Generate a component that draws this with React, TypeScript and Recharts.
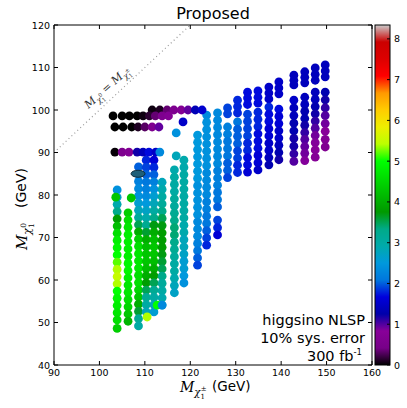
import React from 'react';
import { ScatterChart, Scatter, XAxis, YAxis, ReferenceLine, ReferenceArea } from 'recharts';

const W = 407;
const H = 408;
const PLOT_LEFT = 54;
const PLOT_RIGHT = 372;
const PLOT_TOP = 25;
const PLOT_BOTTOM = 365;
const Z_MAX = 8.34;

const xTicks = [90, 100, 110, 120, 130, 140, 150, 160];
const yTicks = [40, 50, 60, 70, 80, 90, 100, 110, 120];
const cbarTicks = [0, 1, 2, 3, 4, 5, 6, 7, 8];

// horizontal rows of points at the top of the low-mass cluster
const rowY = [100.0, 98.6, 96.0, 90.1];
const rowX = [
  [111.6, 113.3, 114.9, 116.4, 118.0, 119.5, 121.1, 122.6],
  [103.0, 105.0, 106.6, 108.3, 109.6, 111.0, 112.3, 113.8, 115.2],
  [103.4, 105.2, 107.1, 108.5, 110.0, 111.6, 113.1],
  [103.4, 105.0, 106.5, 108.3, 109.6, 110.9, 112.4, 113.3],
];
const rowZ = [
  [0.05, 0.1, 0.35, 0.6, 0.7, 0.95, 1.35, 1.55],
  [0, 0, 0, 0, 0.05, 0.15, 0.35, 0.6, 0.7],
  [0, 0, 0, 0.1, 0.3, 0.6, 0.95],
  [0.02, 0.6, 0.7, 1.2, 1.4, 1.7, 1.5, 2.3],
];

// vertical columns
const colX = [103.9, 106.3, 108.6, 110.3, 112.0, 113.8, 116.5, 118.6,
  121.6, 123.6, 126.0, 128.2, 130.4, 132.6, 134.9, 137.3, 139.5, 142.8, 145.2, 147.5, 149.7];
const colY = [
  [81.2, 79.5, 77.8, 76.1, 74.4, 72.7, 71.0, 69.3, 67.6, 65.9, 64.2, 62.5, 60.8, 59.1, 57.4, 55.7, 54.0, 52.3, 50.6, 48.6],
  [75.8, 74.1, 72.4, 70.7, 69.0, 67.3, 65.6, 63.9, 62.2, 60.5, 58.8, 57.1, 55.4, 53.7, 52.0, 50.3],
  [86.6, 84.9, 83.2, 81.5, 79.8, 78.1, 76.4, 74.7, 73.0, 71.3, 69.6, 67.9, 66.2, 64.5, 62.8, 61.1, 59.4, 57.7, 56.0, 54.3, 52.6, 50.9, 49.2],
  [88.2, 86.5, 84.8, 83.1, 81.4, 79.7, 78.0, 76.3, 74.6, 72.9, 71.2, 69.5, 67.8, 66.1, 64.4, 62.7, 61.0, 59.3, 57.6, 55.9, 54.2, 52.5],
  [88.2, 86.5, 84.8, 83.1, 81.4, 79.7, 78.0, 76.3, 74.6, 72.9, 71.2, 69.5, 67.8, 66.1, 64.4, 62.7, 61.0, 59.3, 57.6, 55.9, 54.2, 52.5],
  [83.0, 81.3, 79.6, 77.9, 76.2, 74.5, 72.8, 71.1, 69.4, 67.7, 66.0, 64.3, 62.6, 60.9, 59.2, 57.5, 55.8, 54.1],
  [85.9, 84.2, 82.5, 80.8, 79.1, 77.4, 75.7, 74.0, 72.3, 70.6, 68.9, 67.2, 65.5, 63.8, 62.1, 60.4, 58.7, 57.0],
  [88.2, 86.5, 84.8, 83.1, 81.4, 79.7, 78.0, 76.3, 74.6, 72.9, 71.2, 69.5, 67.8, 66.1, 64.4, 62.7, 61.0, 59.3],
  [94.1, 92.4, 90.7, 89.0, 87.3, 85.6, 83.9, 82.2, 80.5, 78.8, 77.1, 75.4, 73.7, 72.0, 70.3, 68.6, 66.9, 65.2, 63.5],
  [98.8, 97.1, 95.4, 93.7, 92.0, 90.3, 88.6, 86.9, 85.2, 83.5, 81.8, 80.1, 78.4, 76.7, 75.0, 73.3, 71.6, 69.9, 68.2],
  [99.3, 97.6, 95.9, 94.2, 92.5, 90.8, 89.1, 87.4, 85.7, 84.0, 82.3, 80.6, 78.9, 77.2, 74.1, 72.3, 70.6],
  [100.5, 99.1, 96.0, 94.3, 92.6, 90.9, 89.2, 87.5, 85.8, 84.1],
  [102.3, 100.8, 99.3, 97.2, 95.5, 93.8, 92.1, 90.4, 88.7, 87.0, 85.3],
  [104.2, 102.8, 101.3, 99.0, 97.3, 95.6, 93.9, 92.2, 90.5, 88.8, 87.1, 85.4],
  [104.5, 103.0, 101.6, 99.5, 97.8, 96.1, 94.4, 92.7, 91.0, 89.3, 87.6, 85.9],
  [105.4, 104.0, 102.6, 100.7, 99.0, 97.3, 95.6, 93.9, 92.2, 90.5, 88.8, 87.1],
  [106.6, 105.2, 103.8, 100.2, 98.5, 96.8, 95.1, 93.4, 91.7, 90.0, 88.3],
  [108.2, 107.0, 105.9, 102.3, 100.5, 98.7, 96.9, 95.1, 93.3, 91.5, 89.7, 87.9],
  [109.0, 107.7, 106.4, 103.0, 101.3, 99.7, 98.0, 96.4, 94.7, 93.1, 91.4, 89.8, 88.1],
  [109.9, 108.4, 107.0, 104.2, 102.5, 100.8, 99.1, 97.4, 95.7, 94.0, 92.3, 90.6, 88.9],
  [110.6, 109.2, 107.8, 104.2, 102.4, 100.5, 98.7, 96.8, 95.0, 93.1, 91.3],
];
const colZ = [
  [2.4, 2.6, 2.9, 3.3, 3.8, 4.2, 4.6, 4.8, 4.9, 5.0, 5.2, 5.4, 5.5, 5.4, 5.0, 4.9, 4.8, 4.7, 4.6, 4.4],
  [4.4, 4.6, 4.7, 4.8, 4.8, 4.8, 4.8, 4.9, 4.9, 4.8, 4.7, 4.7, 4.6, 4.5, 4.3, 4.1],
  [2.0, 2.1, 2.2, 2.3, 2.4, 2.6, 2.8, 3.1, 3.5, 4.0, 4.4, 4.6, 4.7, 4.7, 4.7, 4.6, 4.6, 4.5, 4.3, 4.0, 3.6, 3.2, 3.0],
  [1.8, 1.9, 2.0, 2.1, 2.2, 2.3, 2.5, 2.7, 2.9, 3.2, 3.6, 4.0, 4.2, 4.3, 4.3, 4.2, 4.0, 3.8, 3.5, 3.2, 3.0, 2.8],
  [1.6, 1.8, 2.0, 2.2, 2.4, 2.6, 2.8, 3.0, 3.3, 3.7, 4.0, 4.2, 4.3, 4.3, 4.2, 4.0, 3.8, 3.5, 3.2, 3.0, 2.8, 2.6],
  [2.8, 2.9, 3.0, 3.1, 3.3, 3.5, 3.7, 3.8, 3.8, 3.8, 3.7, 3.6, 3.5, 3.3, 3.1, 3.0, 2.9, 2.8],
  [2.9, 3.0, 3.0, 3.0, 3.1, 3.1, 3.2, 3.3, 3.4, 3.4, 3.3, 3.2, 3.1, 3.0, 3.0, 2.9, 2.8, 2.7],
  [2.9, 2.9, 3.0, 3.0, 3.0, 3.0, 3.0, 3.0, 3.0, 2.9, 2.9, 2.8, 2.8, 2.7, 2.6, 2.6, 2.5, 2.4],
  [2.5, 2.5, 2.5, 2.5, 2.5, 2.5, 2.5, 2.4, 2.4, 2.4, 2.4, 2.4, 2.3, 2.3, 2.3, 2.2, 2.1, 2.0, 1.9],
  [2.3, 2.4, 2.4, 2.4, 2.4, 2.4, 2.4, 2.4, 2.3, 2.3, 2.3, 2.3, 2.2, 2.2, 2.1, 2.1, 2.0, 1.9, 1.8],
  [2.3, 2.3, 2.3, 2.3, 2.3, 2.3, 2.3, 2.3, 2.2, 2.2, 2.2, 2.1, 2.1, 2.0, 1.9, 1.8, 1.6],
  [1.9, 1.9, 2.2, 2.2, 2.1, 2.1, 2.1, 2.0, 2.0, 1.9],
  [1.8, 1.8, 1.8, 2.1, 2.0, 2.0, 2.0, 1.9, 1.9, 1.8, 1.8],
  [1.7, 1.7, 1.7, 1.9, 1.9, 1.9, 1.9, 1.8, 1.8, 1.7, 1.7, 1.6],
  [1.7, 1.7, 1.7, 1.8, 1.8, 1.8, 1.7, 1.7, 1.7, 1.6, 1.6, 1.5],
  [1.5, 1.5, 1.5, 1.8, 1.7, 1.7, 1.6, 1.6, 1.5, 1.5, 1.4, 1.3],
  [1.5, 1.5, 1.5, 1.7, 1.6, 1.6, 1.5, 1.5, 1.4, 1.3, 1.2],
  [1.4, 1.4, 1.4, 1.5, 1.4, 1.4, 1.3, 1.3, 1.2, 1.2, 1.1, 1.0],
  [1.4, 1.4, 1.4, 1.4, 1.4, 1.3, 1.3, 1.2, 1.1, 1.0, 0.95, 0.9, 0.85],
  [1.4, 1.4, 1.4, 1.4, 1.4, 1.3, 1.2, 1.1, 1.0, 0.9, 0.85, 0.8, 0.75],
  [1.4, 1.4, 1.4, 1.3, 1.2, 1.1, 1.0, 0.9, 0.8, 0.7, 0.65],
];

// isolated points drawn last
const extraX = [118.4, 116.9, 116.9, 103.6, 107.0, 110.5, 112.7, 113.8];
const extraY = [97.2, 94.6, 89.2, 79.5, 79.3, 51.3, 54.1, 54.1];
const extraZ = [1.5, 2.4, 2.8, 4.3, 4.3, 5.4, 5.0, 2.3];

const blobX = [108.5];
const blobY = [85.0];

const NIPY = [
  [0, 0, 0], [0.4667, 0, 0.5333], [0.5333, 0, 0.6], [0, 0, 0.6667], [0, 0, 0.8667],
  [0, 0.4667, 0.8667], [0, 0.6, 0.8667], [0, 0.6667, 0.6667], [0, 0.6667, 0.5333], [0, 0.6, 0],
  [0, 0.7333, 0], [0, 0.8667, 0], [0, 1, 0], [0.7333, 1, 0], [0.9333, 0.9333, 0],
  [1, 0.8, 0], [1, 0.6, 0], [1, 0, 0], [0.8667, 0, 0], [0.8, 0, 0], [0.8, 0.8, 0.8],
];

const toHex = (c: number[]) =>
  '#' + c.map((v) => Math.round(v * 255).toString(16).padStart(2, '0')).join('');

const zColor = (z: number) => {
  const t = Math.max(0, Math.min(1, z / Z_MAX)) * 20;
  const i = Math.min(19, Math.floor(t));
  const f = t - i;
  const a = NIPY[i];
  const b = NIPY[i + 1];
  return toHex(a.map((v, k) => v + (b[k] - v) * f));
};

const points: { x: number; y: number; z: number }[] = [];
colX.forEach((x, i) => colY[i].forEach((y, j) => points.push({ x, y, z: colZ[i][j] })));
rowY.forEach((y, i) => rowX[i].forEach((x, j) => points.push({ x, y, z: rowZ[i][j] })));
extraX.forEach((x, i) => points.push({ x, y: extraY[i], z: extraZ[i] }));
const blobData = blobX.map((x, i) => ({ x, y: blobY[i] }));

const FONT = 'DejaVu Sans, sans-serif';
const SERIF = 'DejaVu Serif, serif';

const Dot = (props: any) => (
  <circle cx={props.cx} cy={props.cy} r={4.4} fill={zColor(props.payload.z)} />
);

const Blob = (props: any) => (
  <ellipse cx={props.cx} cy={props.cy} rx={7} ry={3.5} fill="#1e5f78" stroke="#0d2b3a" strokeWidth={1} />
);

const XTick = (props: any) => {
  const { x, payload } = props;
  return (
    <g>
      <line x1={x} x2={x} y1={PLOT_BOTTOM} y2={PLOT_BOTTOM - 4} stroke="#000" />
      <line x1={x} x2={x} y1={PLOT_TOP} y2={PLOT_TOP + 4} stroke="#000" />
      <text x={x} y={PLOT_BOTTOM + 11} textAnchor="middle" fontSize={9.5} fontFamily={FONT} fill="#000">
        {payload.value}
      </text>
    </g>
  );
};

const YTick = (props: any) => {
  const { y, payload } = props;
  return (
    <g>
      <line x1={PLOT_LEFT} x2={PLOT_LEFT + 4} y1={y} y2={y} stroke="#000" />
      <line x1={PLOT_RIGHT} x2={PLOT_RIGHT - 4} y1={y} y2={y} stroke="#000" />
      <text x={PLOT_LEFT - 4} y={y + 3.5} textAnchor="end" fontSize={9.5} fontFamily={FONT} fill="#000">
        {payload.value}
      </text>
    </g>
  );
};

const MassSymbol = ({ fs, sup }: { fs: number; sup: string }) => (
  <>
    <tspan fontFamily={SERIF} fontStyle="italic">M</tspan>
    <tspan fontFamily={SERIF} fontStyle="italic" fontSize={fs * 0.72} dy={fs * 0.28}>χ</tspan>
    <tspan fontFamily={SERIF} fontSize={fs * 0.5} dy={fs * 0.2}>1</tspan>
    <tspan fontFamily={SERIF} fontSize={fs * 0.5} dx={-fs * 0.3} dy={-fs * 0.55}>{sup}</tspan>
  </>
);

const Overlay = () => {
  const cbH = PLOT_BOTTOM - PLOT_TOP;
  return (
    <svg width={W} height={H} style={{ position: 'absolute', left: 0, top: 0, pointerEvents: 'none' }}>
      <defs>
        <linearGradient id="nipy" x1="0" y1="1" x2="0" y2="0">
          {NIPY.map((c, i) => (
            <stop key={i} offset={i / 20} stopColor={toHex(c)} />
          ))}
        </linearGradient>
      </defs>
      <text x={(PLOT_LEFT + PLOT_RIGHT) / 2} y={19} textAnchor="middle" fontSize={16} fontFamily={FONT}>
        Proposed
      </text>
      <rect x={375} y={PLOT_TOP} width={15} height={cbH} fill="url(#nipy)" stroke="#000" strokeWidth={1} />
      {cbarTicks.map((t) => {
        const y = PLOT_BOTTOM - (t / Z_MAX) * cbH;
        return (
          <g key={t}>
            <line x1={390} x2={387} y1={y} y2={y} stroke="#000" />
            <text x={394} y={y + 3.5} fontSize={9.5} fontFamily={FONT}>{t}</text>
          </g>
        );
      })}
      <text x={365} y={325} textAnchor="end" fontSize={14.5} fontFamily={FONT}>higgsino NLSP</text>
      <text x={365} y={343} textAnchor="end" fontSize={14.5} fontFamily={FONT}>10% sys. error</text>
      <text x={362} y={361} textAnchor="end" fontSize={14.5} fontFamily={FONT}>
        300 fb<tspan fontSize={8.5} dy={-6}>-1</tspan>
      </text>
      <text x={180} y={392} fontSize={14}>
        <MassSymbol fs={14} sup="±" />
      </text>
      <text x={212} y={391} fontSize={13.5} fontFamily={FONT}>(GeV)</text>
      <g transform="translate(27,205) rotate(-90)">
        <text x={-45} y={0} fontSize={15}>
          <MassSymbol fs={15} sup="0" />
        </text>
        <text x={-3} y={-1} fontSize={14} fontFamily={FONT}>(GeV)</text>
      </g>
      <g transform="translate(107,87) rotate(-42)">
        <text x={0} y={4} textAnchor="middle" fontSize={11} fill="#333">
          <MassSymbol fs={11} sup="0" />
          <tspan fontFamily={SERIF} dy={11 * 0.07}> = </tspan>
          <MassSymbol fs={11} sup="±" />
        </text>
      </g>
    </svg>
  );
};

export default function App() {
  return (
    <div style={{ position: 'absolute', left: 0, top: 0, width: W, height: H, background: '#fff' }}>
      <ScatterChart width={W} height={H} margin={{ top: PLOT_TOP, right: W - PLOT_RIGHT, bottom: 0, left: 0 }}>
        <XAxis
          type="number"
          dataKey="x"
          domain={[90, 160]}
          ticks={xTicks}
          height={H - PLOT_BOTTOM}
          axisLine={false}
          tickLine={false}
          tick={<XTick />}
          allowDataOverflow
        />
        <YAxis
          type="number"
          dataKey="y"
          domain={[40, 120]}
          ticks={yTicks}
          width={PLOT_LEFT}
          axisLine={false}
          tickLine={false}
          tick={<YTick />}
          allowDataOverflow
        />
        <ReferenceLine
          segment={[{ x: 90, y: 90 }, { x: 120, y: 120 }]}
          stroke="#999"
          strokeDasharray="1 3"
          strokeWidth={1.2}
        />
        <Scatter data={points} shape={<Dot />} isAnimationActive={false} />
        <Scatter data={blobData} shape={<Blob />} isAnimationActive={false} />
        <ReferenceArea x1={90} x2={160} y1={40} y2={120} fill="none" stroke="#000" strokeWidth={1} ifOverflow="visible" />
      </ScatterChart>
      <Overlay />
    </div>
  );
}
